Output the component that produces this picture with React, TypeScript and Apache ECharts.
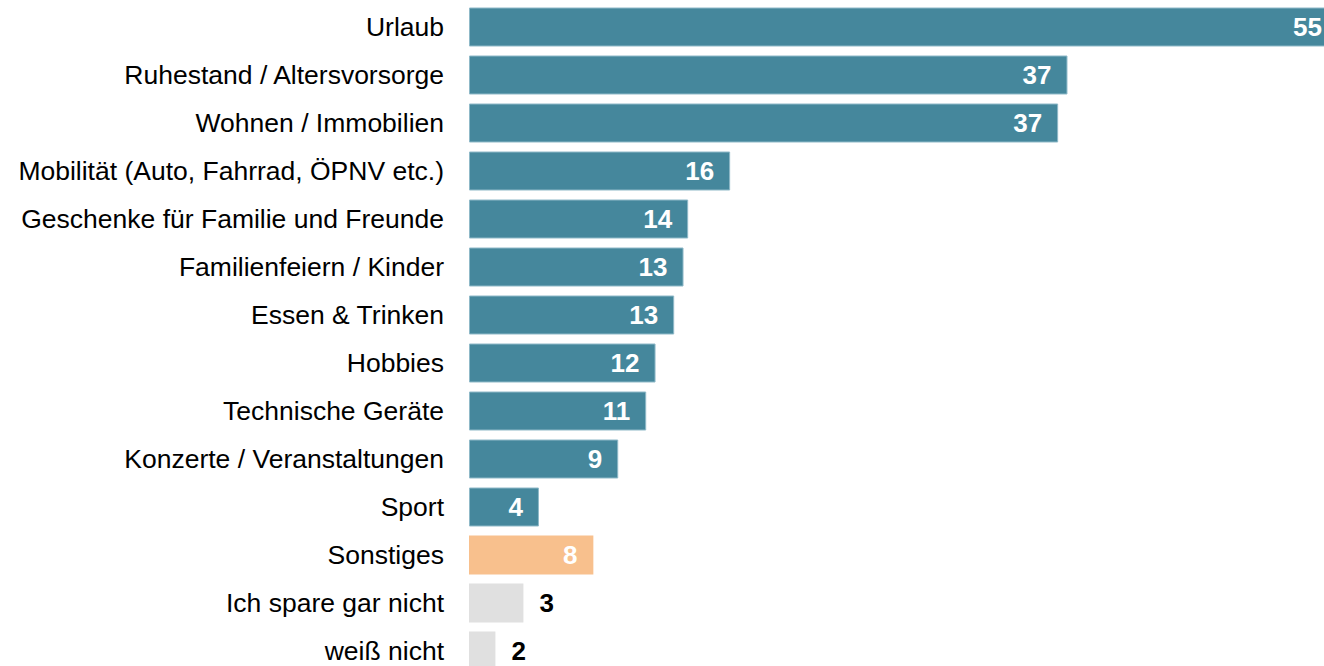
import React, { useEffect, useRef } from "react";
import * as echarts from "echarts";

const categories = [
  "Urlaub",
  "Ruhestand / Altersvorsorge",
  "Wohnen / Immobilien",
  "Mobilität (Auto, Fahrrad, ÖPNV etc.)",
  "Geschenke für Familie und Freunde",
  "Familienfeiern / Kinder",
  "Essen & Trinken",
  "Hobbies",
  "Technische Geräte",
  "Konzerte / Veranstaltungen",
  "Sport",
  "Sonstiges",
  "Ich spare gar nicht",
  "weiß nicht",
];

// bar lengths
const values = [55.9, 38.5, 37.9, 16.8, 14.1, 13.8, 13.2, 12.0, 11.4, 9.6, 4.5, 8.0, 3.5, 1.7];
// value labels as printed
const valueLabels = ["55", "37", "37", "16", "14", "13", "13", "12", "11", "9", "4", "8", "3", "2"];
// group of each bar: main, other, none
const groups = ["main", "main", "main", "main", "main", "main", "main", "main", "main", "main", "main", "other", "none", "none"];

const colors: Record<string, string> = {
  main: "#45879c",
  other: "#f8c08d",
  none: "#e0e0e0",
};

export default function App() {
  const ref = useRef<HTMLDivElement>(null);
  useEffect(() => {
    if (!ref.current) return;
    const chart = echarts.init(ref.current, undefined, { renderer: "svg" });
    const data = values.map((v, i) => {
      const g = groups[i];
      const inside = g !== "none";
      return {
        value: v,
        itemStyle: {
          color: colors[g],
          borderColor: g === "main" ? "#8fb9c8" : colors[g],
          borderWidth: g === "main" ? 1 : 0,
        },
        label: {
          show: true,
          formatter: valueLabels[i],
          position: inside ? "insideRight" : "right",
          distance: 16,
          color: inside ? "#ffffff" : "#000000",
          fontWeight: "bold",
          fontSize: 26,
          fontFamily: "Liberation Sans, Arial, sans-serif",
        },
      };
    });
    chart.setOption({
      animation: false,
      backgroundColor: "#ffffff",
      grid: { left: 469, top: 3, width: 870.5, height: 672, containLabel: false },
      xAxis: { type: "value", min: 0, max: 56, show: false },
      yAxis: {
        type: "category",
        data: categories,
        inverse: true,
        axisLine: { show: false },
        axisTick: { show: false },
        splitLine: { show: false },
        axisLabel: {
          margin: 25,
          color: "#000000",
          fontSize: 26.5,
          fontFamily: "Liberation Sans, Arial, sans-serif",
        },
      },
      series: [
        {
          type: "bar",
          data,
          barWidth: 39,
          silent: true,
        },
      ],
    });
    return () => chart.dispose();
  }, []);
  return (
    <div
      style={{
        position: "fixed",
        left: 0,
        top: 0,
        width: 1324,
        height: 666,
        overflow: "hidden",
        background: "#ffffff",
      }}
    >
      <div ref={ref} style={{ width: 1360, height: 690 }} />
    </div>
  );
}
